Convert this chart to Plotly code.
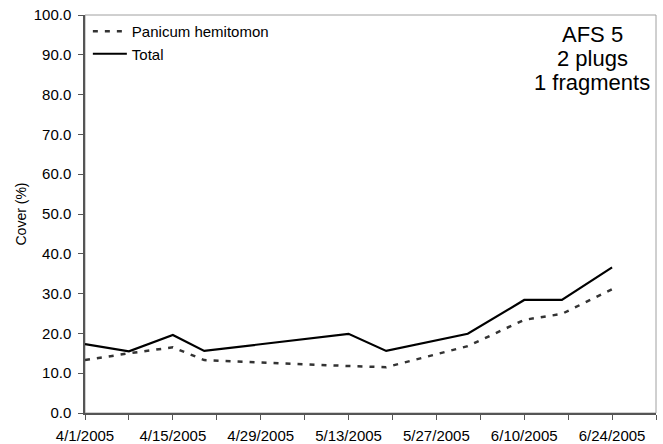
import plotly.graph_objects as go

# Sampling dates and cover values (%)
dates = ["2005-04-01", "2005-04-08", "2005-04-15", "2005-04-20", "2005-05-13",
         "2005-05-19", "2005-06-01", "2005-06-10", "2005-06-16", "2005-06-24"]
panicum = [13.3, 15.0, 16.5, 13.3, 11.8, 11.5, 16.8, 23.4, 24.9, 31.1]
total = [17.3, 15.5, 19.6, 15.6, 19.9, 15.6, 19.9, 28.4, 28.4, 36.6]

# Weekly axis ticks, labelled every second week
tick_dates = ["2005-04-01", "2005-04-08", "2005-04-15", "2005-04-22", "2005-04-29",
              "2005-05-06", "2005-05-13", "2005-05-20", "2005-05-27", "2005-06-03",
              "2005-06-10", "2005-06-17", "2005-06-24", "2005-07-01"]
tick_labels = ["4/1/2005", "", "4/15/2005", "", "4/29/2005", "", "5/13/2005", "",
               "5/27/2005", "", "6/10/2005", "", "6/24/2005", ""]
y_ticks = [0, 10, 20, 30, 40, 50, 60, 70, 80, 90, 100]

info_lines = ["AFS 5", "2 plugs", "1 fragments"]

FONT = "Liberation Sans, Arial, sans-serif"

fig = go.Figure()
fig.add_trace(go.Scatter(
    x=dates, y=panicum, mode="lines", name="Panicum hemitomon",
    line=dict(color="#333333", width=2.5, dash="5px,7px"),
))
fig.add_trace(go.Scatter(
    x=dates, y=total, mode="lines", name="Total",
    line=dict(color="black", width=2.2),
))

# light border on top and right of the plotting area
fig.add_shape(type="rect", xref="paper", yref="paper", x0=0, x1=1, y0=0, y1=1,
              line=dict(color="#a0a0a0", width=1), layer="below")

for i, txt in enumerate(info_lines):
    fig.add_annotation(
        x=0.888, xref="paper", y=0.951 - i * 0.0605, yref="paper",
        text=txt, showarrow=False, xanchor="center", yanchor="middle",
        font=dict(family=FONT, size=22, color="black"),
    )

fig.update_layout(
    width=663, height=444,
    margin=dict(l=85, r=7, t=15, b=31),
    paper_bgcolor="white", plot_bgcolor="white",
    font=dict(family=FONT, size=14, color="black"),
    showlegend=True,
    legend=dict(
        x=0.005, y=1.0, xanchor="left", yanchor="top",
        bgcolor="rgba(0,0,0,0)", borderwidth=0,
        font=dict(family=FONT, size=15, color="black"),
        tracegroupgap=0, itemwidth=34,
    ),
    xaxis=dict(
        type="date", range=["2005-04-01", "2005-07-01"],
        tickmode="array", tickvals=tick_dates, ticktext=tick_labels,
        ticks="outside", ticklen=5, tickcolor="#555555",
        showline=True, linecolor="#555555", linewidth=1.5,
        showgrid=False, zeroline=False, automargin=False,
        ticklabelstandoff=3,
        tickfont=dict(family=FONT, size=15, color="black"),
    ),
    yaxis=dict(
        range=[0, 100], tickmode="array", tickvals=y_ticks,
        tickformat=".1f",
        ticks="outside", ticklen=5, tickcolor="#555555",
        showline=True, linecolor="#555555", linewidth=1.5,
        showgrid=False, zeroline=False, automargin=False,
        ticklabelstandoff=4,
        tickfont=dict(family=FONT, size=15, color="black"),
        title=dict(text="Cover (%)", font=dict(family=FONT, size=14, color="black"),
                   standoff=4),
    ),
)

fig.write_html("out.html")
